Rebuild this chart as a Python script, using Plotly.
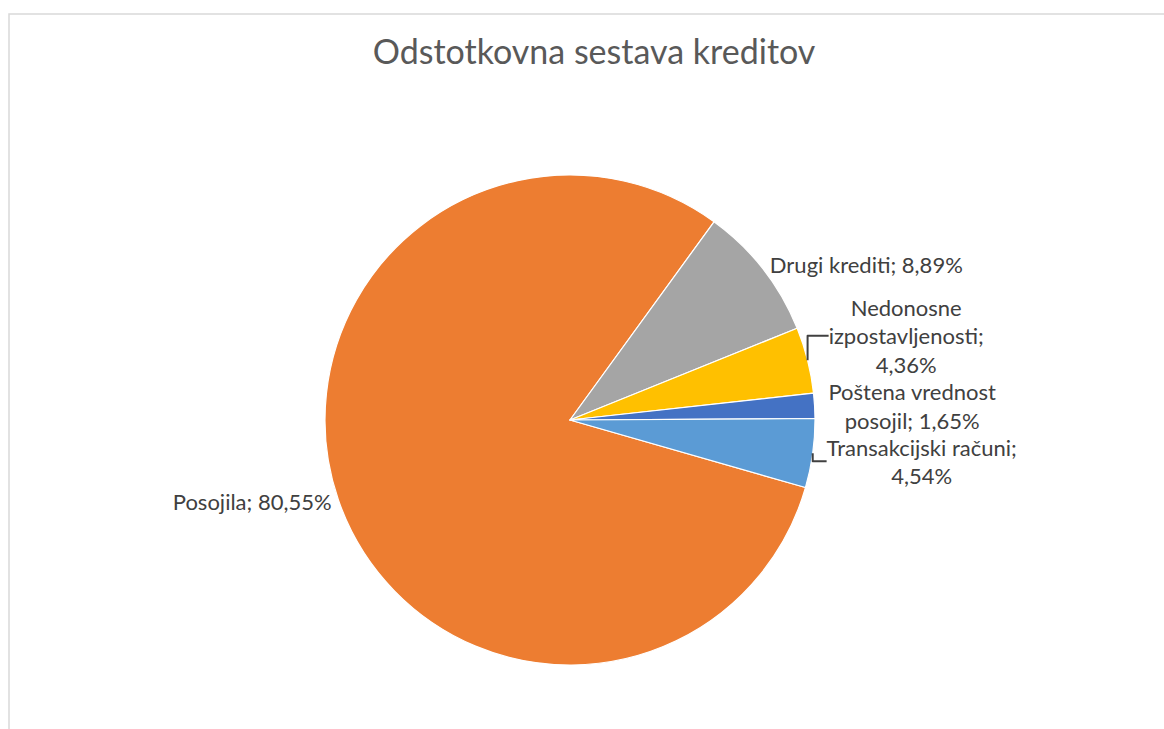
import plotly.graph_objects as go

# Data
categories = ["Posojila", "Drugi krediti", "Nedonosne izpostavljenosti",
              "Poštena vrednost posojil", "Transakcijski računi"]
shares = [80.55, 8.89, 4.36, 1.65, 4.54]
label_text = ["Posojila;", "Drugi krediti;", "Nedonosne<br>izpostavljenosti;<br>",
              "Poštena vrednost<br>posojil;", "Transakcijski računi;<br>"]
colors = ["#ED7D31", "#A5A5A5", "#FFC000", "#4472C4", "#5B9BD5"]

texts = []
for lt, v in zip(label_text, shares):
    sep = "" if lt.endswith("<br>") else " "
    texts.append(f"{lt}{sep}{v:.2f}%".replace(".", ","))

W, H = 1164, 729
cx, cy, r = 570, 420, 245

fig = go.Figure(go.Pie(
    labels=categories,
    values=shares,
    text=texts,
    texttemplate="%{text}",
    textposition="outside",
    textfont=dict(family="Lato, Open Sans, sans-serif", size=22, color="#404040"),
    marker=dict(colors=colors, line=dict(color="#FFFFFF", width=1.2)),
    sort=False,
    direction="clockwise",
    rotation=106,
    showlegend=False,
    hoverinfo="label+percent",
    domain=dict(x=[(cx - r) / W, (cx + r) / W], y=[1 - (cy + r) / H, 1 - (cy - r) / H]),
))

fig.update_layout(
    width=W, height=H,
    margin=dict(l=0, r=0, t=0, b=0),
    paper_bgcolor="white",
    separators=",.",
    title=dict(text="Odstotkovna sestava kreditov", x=594 / W, xanchor="center",
               y=1 - 52 / H, yanchor="middle",
               font=dict(family="Lato, Open Sans, sans-serif", size=34, color="#595959")),
    shapes=[dict(type="rect", xref="paper", yref="paper",
                 x0=9 / W, x1=1.02, y0=-0.02, y1=1 - 14 / H,
                 line=dict(color="#D9D9D9", width=1.5), fillcolor="rgba(0,0,0,0)")],
)

fig.write_html("out.html")
